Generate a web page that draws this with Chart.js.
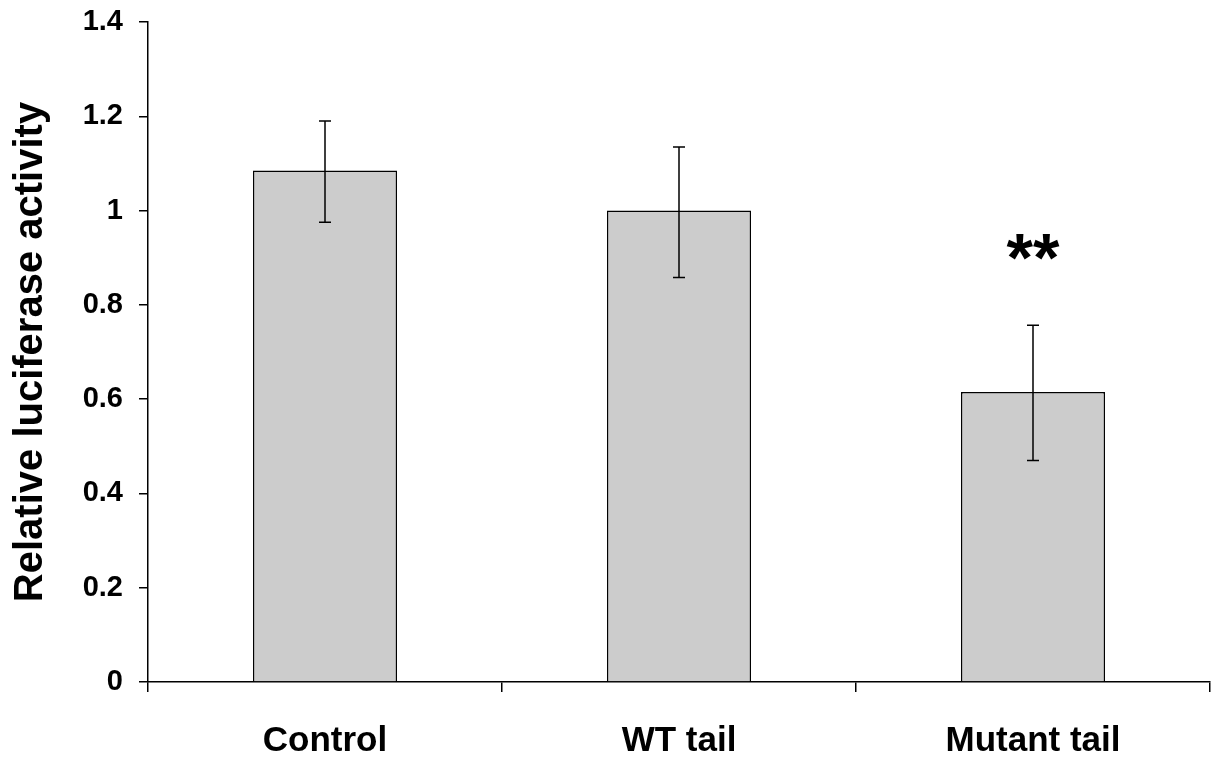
<!DOCTYPE html>
<html>
<head>
<meta charset="utf-8">
<script src="https://cdn.jsdelivr.net/npm/chart.js@4/dist/chart.umd.min.js"></script>
<style>
  body { margin: 0; background: #fff; }
  canvas { display: block; }
</style>
</head>
<body>
<canvas id="chart" width="1213" height="767"></canvas>
<script>
// values
const categories = ["Control", "WT tail", "Mutant tail"];
const means = [1.085, 1.0, 0.615];
const errLow = [0.975, 0.858, 0.47];
const errHigh = [1.19, 1.135, 0.757];
const marks = ["", "", "**"];
const markAt = [0, 0, 0.915];

const FONT = "'Liberation Sans', Arial, sans-serif";

// error bars + significance stars, placed through the scales
const errorBars = {
    id: "errorBars",
    afterDatasetsDraw(chart) {
        const ctx = chart.ctx;
        const y = chart.scales.y;
        const meta = chart.getDatasetMeta(0);
        ctx.save();
        ctx.strokeStyle = "#000";
        ctx.lineWidth = 1.5;
        meta.data.forEach((bar, i) => {
            const x = bar.x;
            const top = y.getPixelForValue(errHigh[i]);
            const bot = y.getPixelForValue(errLow[i]);
            ctx.beginPath();
            ctx.moveTo(x, top); ctx.lineTo(x, bot);
            ctx.moveTo(x - 6, top); ctx.lineTo(x + 6, top);
            ctx.moveTo(x - 6, bot); ctx.lineTo(x + 6, bot);
            ctx.stroke();
            if (marks[i]) {
                ctx.fillStyle = "#000";
                ctx.font = "bold 68px " + FONT;
                ctx.textAlign = "center";
                ctx.textBaseline = "middle";
                ctx.fillText(marks[i], x, y.getPixelForValue(markAt[i]) + 12);
            }
        });
        ctx.restore();
    }
};

new Chart("chart", {
    type: "bar",
    data: {
        labels: categories,
        datasets: [{
            data: means,
            backgroundColor: "#cccccc",
            borderColor: "#000",
            borderWidth: 1.5,
            categoryPercentage: 1,
            barPercentage: 0.407
        }]
    },
    options: {
        responsive: false,
        animation: false,
        layout: { padding: { top: 22, right: 3, bottom: 0, left: 0 } },
        plugins: { legend: { display: false }, tooltip: { enabled: false } },
        scales: {
            y: {
                min: 0,
                max: 1.4,
                afterFit(scale) {
                    scale.width = 148;
                    scale.paddingTop = 0;
                    scale.paddingBottom = 0;
                },
                ticks: {
                    stepSize: 0.2,
                    padding: 16,
                    color: "#000",
                    font: { family: FONT, size: 29, weight: "bold" },
                    callback: v => String(Number(v.toFixed(1)))
                },
                grid: { drawOnChartArea: false, tickLength: 9, color: "#000", lineWidth: 1.5 },
                border: { color: "#000", width: 1.5 },
                title: {
                    display: true,
                    text: "Relative luciferase activity",
                    color: "#000",
                    padding: { top: 7, bottom: 0 },
                    font: { family: FONT, size: 40, weight: "bold" }
                }
            },
            x: {
                afterFit(scale) {
                    scale.height = 85;
                    scale.paddingLeft = 0;
                    scale.paddingRight = 0;
                },
                ticks: {
                    padding: 28,
                    color: "#000",
                    font: { family: FONT, size: 35, weight: "bold" }
                },
                grid: { drawOnChartArea: false, offset: true, tickLength: 10, color: "#000", lineWidth: 1.5 },
                border: { color: "#000", width: 1.5 }
            }
        }
    },
    plugins: [errorBars]
});
</script>
</body>
</html>
